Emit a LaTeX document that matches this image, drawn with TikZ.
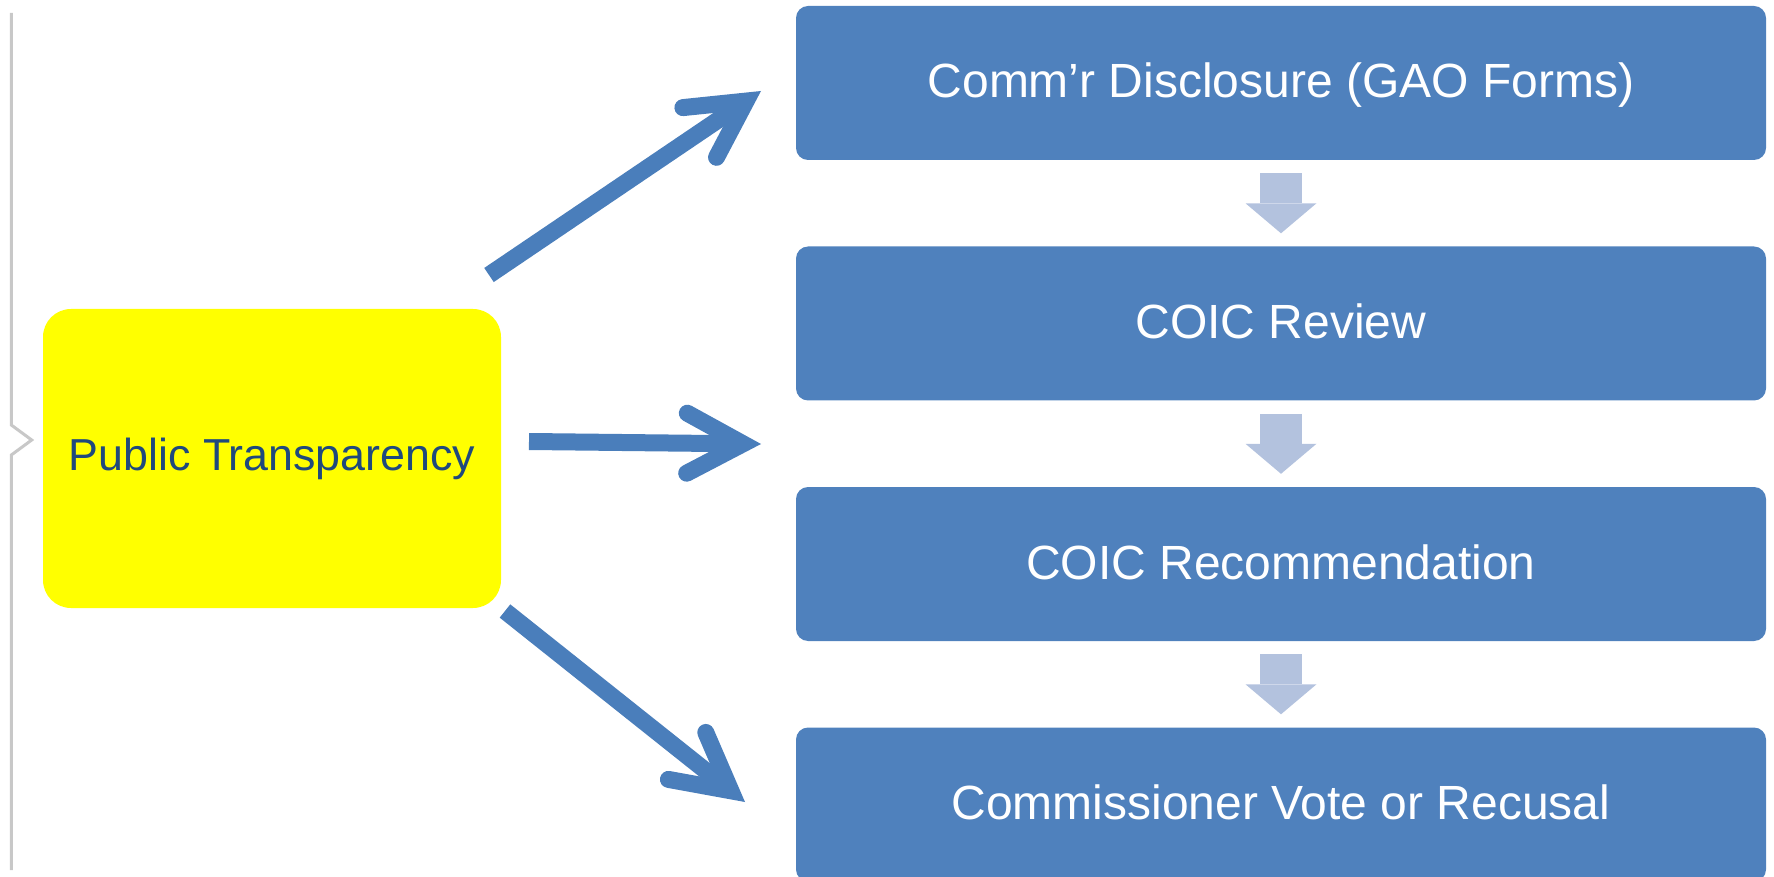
\documentclass[tikz,border=0pt]{standalone}
\usepackage{fontspec}
\setmainfont{Liberation Sans}
\usetikzlibrary{arrows.meta, positioning}
\usepackage{xcolor}
\definecolor{stepblue}{RGB}{79,129,189}
\definecolor{arrowblue}{RGB}{74,126,187}
\definecolor{paleblue}{RGB}{179,194,222}
\definecolor{titleblue}{RGB}{31,73,125}
\definecolor{focusyellow}{RGB}{255,255,0}
\definecolor{bracketgray}{RGB}{200,200,200}
\tikzset{stepnode/.style={rectangle, rounded corners=6pt, fill=stepblue, text=white, minimum width=485pt, minimum height=77pt, inner sep=0pt, text height=17pt, text depth=2pt, font=\fontsize{24}{28}\selectfont},
focusnode/.style={rectangle, rounded corners=14pt, fill=focusyellow, text=titleblue, minimum width=229pt, minimum height=149.5pt, inner sep=0pt, font=\fontsize{22.4}{26}\selectfont}}

\begin{document}
\begin{tikzpicture}[
                x=0.5pt, y=-0.5pt,
                bigarrow/.style={arrowblue, line width=8.5pt, -{Straight Barb[line cap=round, line join=miter, length=28pt, width=30pt]}},
                stepflow/.style={paleblue, line width=21pt, shorten <=6.5pt, shorten >=6.4pt, -{Triangle[length=15pt, width=35.5pt, line width=0pt]}}
            ]
                \useasboundingbox (0,0) rectangle (1774,877);

                % Bracket
                \draw[bracketgray, line width=1.5pt] (11.3,13) -- (11.3,425) -- (31.7,440) -- (11.3,455) -- (11.3,870);

                % Boxes
                \node[focusnode] (transparency) at (272,458.5) {Public Transparency};
                \node[stepnode] (disclosure) at (1281,83) {Comm’r Disclosure (GAO Forms)};
                \node[stepnode, below=42.85pt of disclosure] (review) {COIC Review};
                \node[stepnode, below=42.85pt of review] (recommendation) {COIC Recommendation};
                \node[stepnode, below=42.85pt of recommendation] (vote) {Commissioner Vote or Recusal};

                % Steps
                \draw[stepflow] (disclosure) -- (review);
                \draw[stepflow] (review) -- (recommendation);
                \draw[stepflow] (recommendation) -- (vote);

                % Arrows
                \coordinate (upfrom) at (489,275);
                \coordinate (upto) at (761,91);
                \coordinate (midfrom) at (529,441.5);
                \coordinate (midto) at (761,444);
                \coordinate (lowfrom) at (505,611);
                \coordinate (lowto) at (745,802);
                \draw[bigarrow] (upfrom) -- (upto);
                \draw[bigarrow] (midfrom) -- (midto);
                \draw[bigarrow] (lowfrom) -- (lowto);
            \end{tikzpicture}
\end{document}
